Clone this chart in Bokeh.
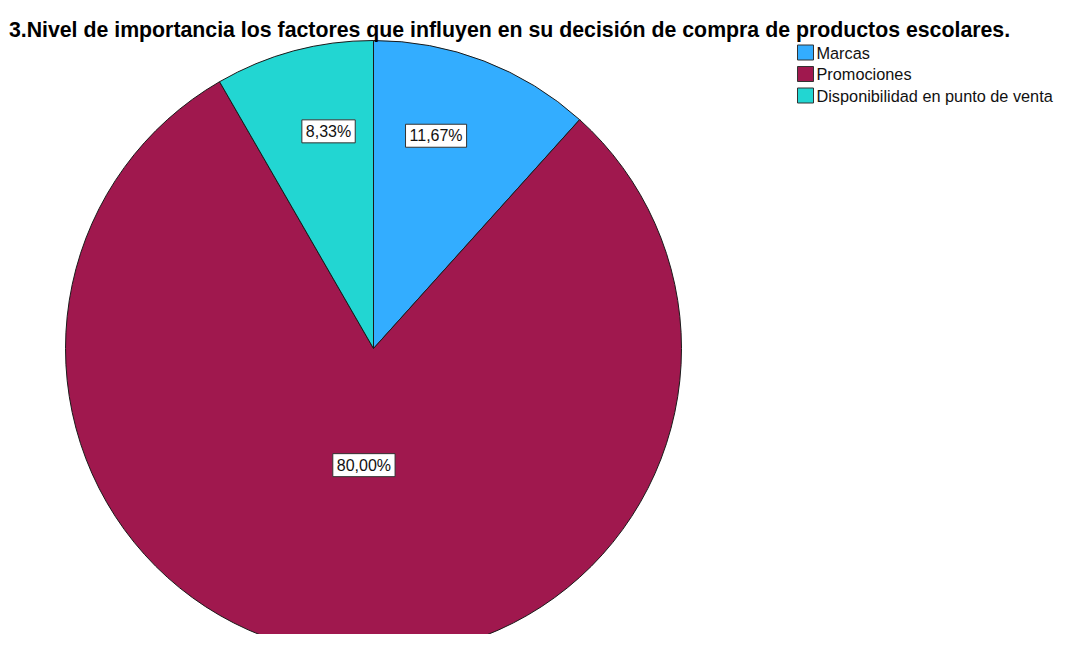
import math
from bokeh.plotting import figure
from bokeh.models import Range1d, ColumnDataSource
from bokeh.core.properties import value
from bokeh.embed import file_html
from bokeh.resources import INLINE

title = "3.Nivel de importancia los factores que influyen en su decisión de compra de productos escolares."
categories = ["Marcas", "Promociones", "Disponibilidad en punto de venta"]
percents = [11.67, 80.00, 8.33]
labels = ["11,67%", "80,00%", "8,33%"]
colors = ["#33adff", "#a0184e", "#22d6d2"]

W, H = 1054, 634
p = figure(width=W, height=H, output_backend="svg", toolbar_location=None,
           x_range=Range1d(0, W), y_range=Range1d(0, H),
           min_border=0)
p.axis.visible = False
p.grid.visible = False
p.outline_line_color = None

def sy(y):  # picture y (top-down) -> data y
    return H - y

cx, cy, r = 373, sy(348), 308
font = value("Liberation Sans")

# wedges, clockwise from 12 o'clock
starts, ends, lx, ly = [], [], [], []
acc = 0.0
for v in percents:
    a0 = math.pi / 2 - 2 * math.pi * acc / 100
    a1 = math.pi / 2 - 2 * math.pi * (acc + v) / 100
    starts.append(a0)
    ends.append(a1)
    mid = (a0 + a1) / 2
    # pull the label angle towards the vertical axis (as SPSS does)
    vert = math.pi / 2 if math.sin(mid) >= 0 else -math.pi / 2
    d = math.atan2(math.sin(mid - vert), math.cos(mid - vert))
    la = vert + 0.78 * d
    frac = 0.38 if v > 50 else 0.72
    lx.append(cx + frac * r * math.cos(la))
    ly.append(cy + frac * r * math.sin(la))
    acc += v

src = ColumnDataSource(dict(start=starts, end=ends, color=colors, cat=categories,
                            lx=lx, ly=ly, label=labels))
p.wedge(x=cx, y=cy, radius=r, start_angle="start", end_angle="end",
        direction="clock", fill_color="color", line_color="#1a1a1a",
        line_width=1, source=src)

p.text(x="lx", y="ly", text="label", source=src, text_font=font,
       text_font_size="16px", text_align="center", text_baseline="middle",
       text_color="#111111", background_fill_color="white",
       border_line_color="#333333", border_line_width=1, padding=(4, 3))

# title
p.text(x=[509], y=[sy(29)], text=[title], text_font=font, text_font_style="bold",
       text_font_size="21.3px", text_align="center", text_baseline="alphabetic",
       text_color="#000000")

# legend
ly_leg = [sy(52 + 21.5 * i) for i in range(len(categories))]
p.rect(x=[805] * len(categories), y=ly_leg, width=16, height=15,
       fill_color=colors, line_color="#333333", line_width=1)
p.text(x=[816] * len(categories), y=ly_leg, text=categories, text_font=font,
       text_font_size="16.3px", text_align="left", text_baseline="middle",
       text_color="#111111")

open("out.html", "w").write(file_html(p, INLINE))
